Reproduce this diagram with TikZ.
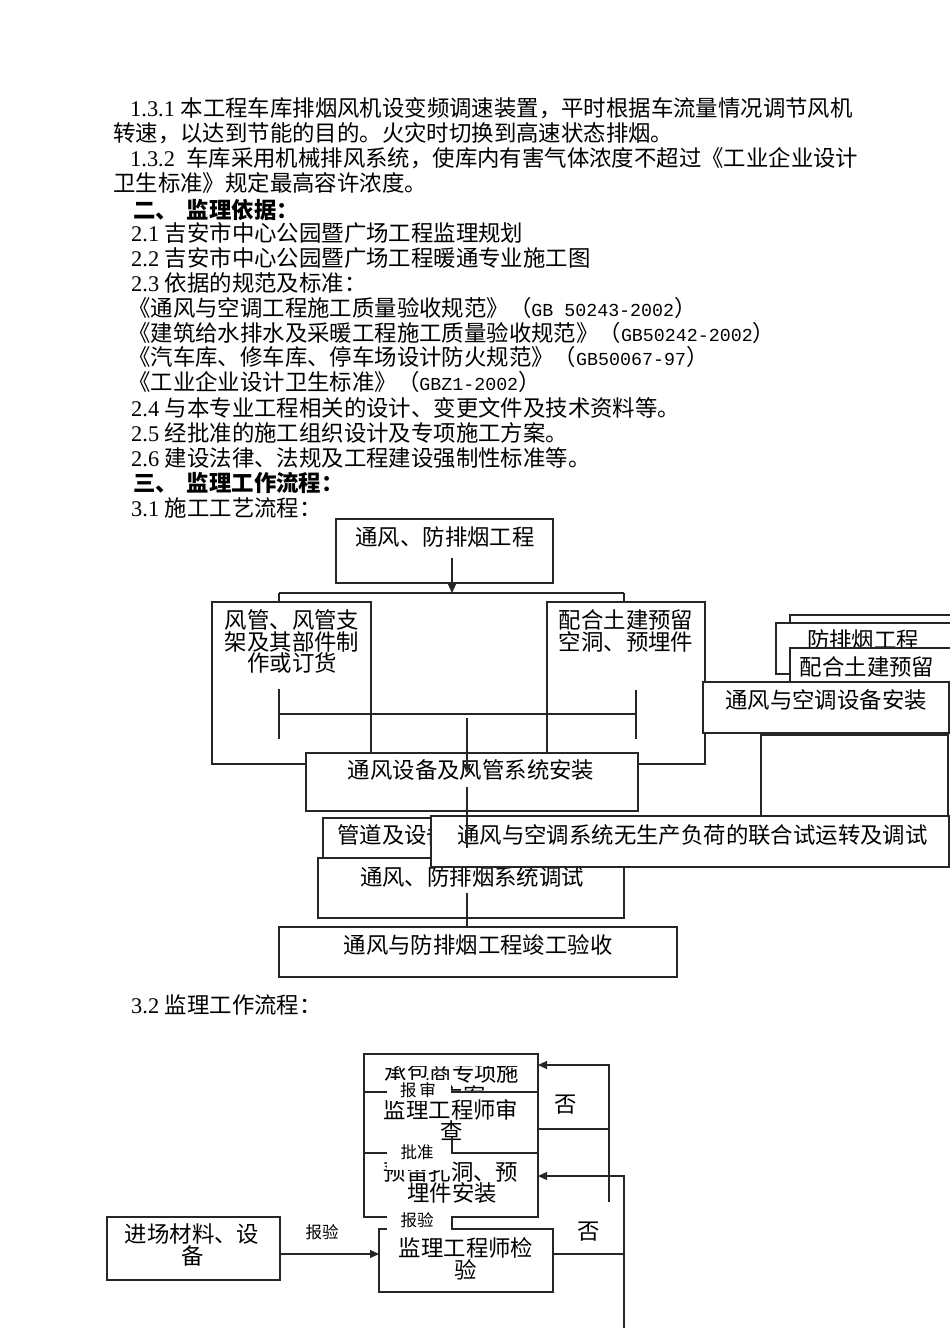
\documentclass[tikz,border=0pt]{standalone}
\usepackage{fontspec}
\setmainfont{Noto Sans CJK SC}
\newfontfamily\lsr{Liberation Serif}
\newfontfamily\lmono{Liberation Mono}
\usetikzlibrary{arrows.meta}
\newcommand\fsz{\fontsize{22.4}{26}\selectfont}
\newcommand\msz{\fontsize{18.3}{26}\selectfont}
\newcommand\ssz{\fontsize{16.5}{20}\selectfont}
\newcommand\mkbox[5]{\node[bx,minimum width={#4-#2},minimum height={#5-#3}] (#1) at ({(#2+#4)/2},{(#3+#5)/2}) {};}
\begin{document}
\begin{tikzpicture}[x=1pt,y=-1pt,
  txt/.style={anchor=west,inner sep=0pt,text height=19.7pt,text depth=2.7pt,font=\fsz},
  ctxt/.style={txt,anchor=center},
  stxt/.style={anchor=center,inner sep=0pt,text height=14.5pt,text depth=2pt,font=\ssz},
  bx/.style={draw=black!85,line width=1.2pt,fill=white,inner sep=0pt,outer sep=0pt},
  ln/.style={draw=black!85,line width=1.2pt},
  arr/.style={ln,-{Triangle[length=9pt,width=8pt]}},
  lblbox/.style={fill=white,inner sep=0pt,minimum width=64pt}]
\useasboundingbox (0,0) rectangle (950,1344);
\fill[white] (0,0) rectangle (950,1344);

% ---------------- body text ----------------
\node[txt] (p1) at (130,108) {{\lsr 1.3.1 }本工程车库排烟风机设变频调速装置，平时根据车流量情况调节风机};
\node[txt] (p2) at (113,133) {转速，以达到节能的目的。火灾时切换到高速状态排烟。};
\node[txt] (p3) at (130,158) {{\lsr 1.3.2\ \ }车库采用机械排风系统，使库内有害气体浓度不超过《工业企业设计};
\node[txt] (p4) at (113,183) {卫生标准》规定最高容许浓度。};
\node[txt,font=\fsz\bfseries] (h2) at (133,210) {二、\hspace{9pt}监理依据：};
\node[txt] (s21) at (131,233) {{\lsr 2.1 }吉安市中心公园暨广场工程监理规划};
\node[txt] (s22) at (131,258) {{\lsr 2.2 }吉安市中心公园暨广场工程暖通专业施工图};
\node[txt] (s23) at (131,283) {{\lsr 2.3 }依据的规范及标准：};
\node[txt] (g1) at (128,308) {《通风与空调工程施工质量验收规范》（{\lmono\msz GB 50243-2002}）};
\node[txt] (g2) at (128,333) {《建筑给水排水及采暖工程施工质量验收规范》（{\lmono\msz GB50242-2002}）};
\node[txt] (g3) at (128,357) {《汽车库、修车库、停车场设计防火规范》（{\lmono\msz GB50067-97}）};
\node[txt] (g4) at (128,382) {《工业企业设计卫生标准》（{\lmono\msz GBZ1-2002}）};
\node[txt] (s24) at (131,408) {{\lsr 2.4 }与本专业工程相关的设计、变更文件及技术资料等。};
\node[txt] (s25) at (131,433) {{\lsr 2.5 }经批准的施工组织设计及专项施工方案。};
\node[txt] (s26) at (131,458) {{\lsr 2.6 }建设法律、法规及工程建设强制性标准等。};
\node[txt,font=\fsz\bfseries] (h3) at (133,483) {三、\hspace{9pt}监理工作流程：};
\node[txt] (s31) at (131,508) {{\lsr 3.1 }施工工艺流程：};
\node[txt] (s32) at (131,1005) {{\lsr 3.2 }监理工作流程：};

% ---------------- flowchart 3.1 ----------------
\mkbox{A}{336}{519}{553}{583}
\node[ctxt] (At) at (445,537) {通风、防排烟工程};
\coordinate (a1) at (452,558);
\coordinate (a2) at (452,593);
\coordinate (bl) at (279,593);
\coordinate (br) at (624,593);
\draw[arr] (a1) -- (a2);
\draw[ln] (bl) -- (br);

\mkbox{B}{212}{602}{371}{764}
\node[ctxt] at (292,620) {风管、风管支};
\node[ctxt] at (292,642) {架及其部件制};
\node[ctxt] at (292,663) {作或订货};
\mkbox{C}{547}{602}{705}{764}
\node[ctxt] at (626,620) {配合土建预留};
\node[ctxt] at (626,642) {空洞、预埋件};
\draw[ln] (bl) -- (B.north -| bl);
\draw[ln] (br) -- (C.north -| br);

% bracket
\coordinate (k1) at (279,689);
\coordinate (k2) at (279,739);
\coordinate (k3) at (636,690);
\coordinate (k4) at (636,739);
\coordinate (k5) at (279,714);
\coordinate (k6) at (636,714);
\coordinate (k7) at (467,718);
\coordinate (k8) at (467,773);
\draw[ln] (k1) -- (k2);
\draw[ln] (k3) -- (k4);
\draw[ln] (k5) -- (k6);

% right cluster
\mkbox{E1}{790}{615}{965}{700}
\mkbox{E2}{776}{623}{965}{674}
\node[ctxt] at (863,640) {防排烟工程};
\mkbox{E3}{790}{648}{965}{700}
\node[ctxt] at (867,667) {配合土建预留};
\mkbox{F}{703}{682}{949}{733}
\node[ctxt] at (826,700) {通风与空调设备安装};
\mkbox{G}{761}{735}{948}{840}

\mkbox{D}{306}{753}{638}{811}
\node[ctxt] at (471,770) {通风设备及风管系统安装};
\draw[arr] (k7) -- (k8);

\mkbox{H}{323}{818}{445}{858}
\node[txt] at (337,835) {管道及设备};
\mkbox{J}{318}{858}{624}{918}
\node[ctxt] at (472,877) {通风、防排烟系统调试};
\mkbox{I}{431}{816}{949}{867}
\node[txt] at (457,835) {通风与空调系统无生产负荷的联合试运转及调试};
\coordinate (d1) at (467,787);
\coordinate (d2) at (467,848);
\draw[ln] (d1) -- (d2);

\mkbox{K}{279}{927}{677}{977}
\node[ctxt] at (478,945) {通风与防排烟工程竣工验收};
\coordinate (j1) at (467,893);
\draw[ln] (j1) -- (K.north -| j1);

% ---------------- flowchart 3.2 ----------------
\mkbox{P}{364}{1054}{538}{1092}
\begin{scope}
\clip (300,1066) rectangle (600,1200);
\node[ctxt] at (452,1073) {承包商专项施};
\node[ctxt] at (452,1096) {工方案};
\end{scope}
\mkbox{Q}{364}{1092}{538}{1153}
\node[ctxt] at (451,1110) {监理工程师审};
\node[ctxt] at (452,1131) {查};
\mkbox{R}{364}{1153}{538}{1217}
\node[ctxt] at (451,1172) {预留孔洞、预};
\node[ctxt] at (452,1193) {埋件安装};
\mkbox{S}{379}{1229}{553}{1292}
\node[ctxt] at (466,1248) {监理工程师检};
\node[ctxt] at (466,1270) {验};
\mkbox{T}{107}{1217}{280}{1280}
\node[ctxt] at (192,1234) {进场材料、设};
\node[ctxt] at (193,1256) {备};

% connectors
\coordinate (q1) at (452,1137);
\draw[ln] (q1) -- (R.north -| q1);
\coordinate (r1) at (452,1217);
\draw[ln] (r1) -- (S.north -| r1);
\coordinate (f1) at (609,1129);
\coordinate (f2) at (609,1065);
\coordinate (f3) at (609,1202);
\draw[ln] (Q.east |- f1) -- (f1);
\draw[arr] (f3) -- (f2) -- (P.east |- f2);
\coordinate (g1a) at (624,1254);
\coordinate (g2a) at (624,1176);
\coordinate (g3a) at (624,1328);
\draw[ln] (S.east |- g1a) -- (g1a);
\draw[arr] (g3a) -- (g2a) -- (R.east |- g2a);
\draw[arr] (T.east |- g1a) -- (S.west |- g1a);

% labels
\node[lblbox,minimum height=21pt] (L1) at (419,1090.5) {};
\node[stxt] at (418,1090) {报\,审};
\node[lblbox,minimum height=29pt] (L2) at (419,1155.5) {};
\node[stxt] at (417,1152) {批准};
\node[lblbox,minimum height=26pt] (L3) at (419,1219) {};
\node[stxt] at (417,1220) {报验};
\node[stxt] at (322,1232) {报验};
\node[ctxt] at (566,1104) {否};
\node[ctxt] at (589,1231) {否};
\end{tikzpicture}
\end{document}
